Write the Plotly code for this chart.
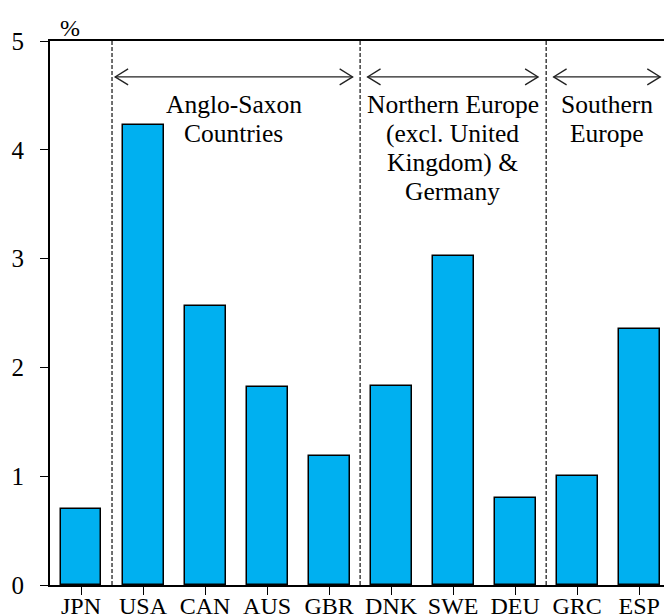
import plotly.graph_objects as go

countries = ["JPN", "USA", "CAN", "AUS", "GBR", "DNK", "SWE", "DEU", "GRC", "ESP"]
values = [0.70, 4.23, 2.56, 1.82, 1.19, 1.83, 3.02, 0.80, 1.00, 2.35]
y_ticks = [0, 1, 2, 3, 4, 5]

# group separators (between category indices) and group labels
separators = [0.5, 4.5, 7.5]
group_lines = [
    ["Anglo-Saxon", "Countries"],
    ["Northern Europe", "(excl. United", "Kingdom) &", "Germany"],
    ["Southern", "Europe"],
]
arrow_start = [0.55, 4.62, 7.62]
arrow_end = [4.38, 7.37, 9.34]
arrow_y = 4.67

FONT = "Liberation Serif, Times New Roman, serif"

fig = go.Figure()
fig.add_trace(go.Bar(
    x=list(range(len(countries))), y=values, width=0.66,
    marker=dict(color="#00B0F0", line=dict(color="#000000", width=1.5)),
    showlegend=False, hoverinfo="skip",
))

shapes = []
for s in separators:
    shapes.append(dict(type="line", xref="x", yref="y", x0=s, x1=s, y0=0, y1=5,
                       line=dict(color="#111111", width=1.2, dash="4px,2px")))

annotations = []
for x0, x1, lines in zip(arrow_start, arrow_end, group_lines):
    shapes.append(dict(type="line", xref="x", yref="y", x0=x0, x1=x1, y0=arrow_y, y1=arrow_y,
                       line=dict(color="#222222", width=1.3)))
    shapes.append(dict(type="path", xref="x", yref="y", xsizemode="pixel", ysizemode="pixel",
                       xanchor=x0, yanchor=arrow_y, path="M 13,8 L 0,0 L 13,-8",
                       line=dict(color="#222222", width=1.3)))
    shapes.append(dict(type="path", xref="x", yref="y", xsizemode="pixel", ysizemode="pixel",
                       xanchor=x1, yanchor=arrow_y, path="M -13,8 L 0,0 L -13,-8",
                       line=dict(color="#222222", width=1.3)))
    xc = (x0 + x1) / 2
    for i, t in enumerate(lines):
        annotations.append(dict(x=xc, y=arrow_y, xref="x", yref="y", text=t, showarrow=False,
                                yshift=-28 - 29 * i, yanchor="middle", xanchor="center",
                                font=dict(family=FONT, size=25.5, color="#000000")))

annotations.append(dict(x=0, y=1, xref="paper", yref="paper", text="%", showarrow=False,
                        xanchor="center", yanchor="bottom", xshift=20, yshift=-2,
                        font=dict(family=FONT, size=24, color="#000000")))

fig.update_layout(
    width=664, height=615,
    margin=dict(l=50, r=0, t=41, b=30, autoexpand=False),
    plot_bgcolor="white", paper_bgcolor="white",
    font=dict(family=FONT, size=24, color="#000000"),
    shapes=shapes, annotations=annotations,
    bargap=0,
)
fig.update_xaxes(
    range=[-0.5, 9.4], tickmode="array", tickvals=list(range(len(countries))), ticktext=countries,
    tickson="boundaries", ticks="outside", ticklen=8, tickcolor="#000000", tickwidth=1,
    ticklabelstandoff=-10,
    showline=True, linecolor="#000000", linewidth=2, mirror=True,
    showgrid=False, zeroline=False, fixedrange=True, automargin=False,
)
fig.update_yaxes(
    range=[0, 5], tickmode="array", tickvals=y_ticks, ticks="outside", ticklen=8,
    tickcolor="#000000", tickwidth=1, ticklabelstandoff=11,
    tickfont=dict(family=FONT, size=25, color="#000000"),
    showline=True, linecolor="#000000", linewidth=2,
    showgrid=False, zeroline=False, fixedrange=True, automargin=False,
)

fig.write_html(
    "out.html",
    config={"displayModeBar": False},
    post_script="document.body.style.margin='0';document.body.style.overflow='hidden';",
)
